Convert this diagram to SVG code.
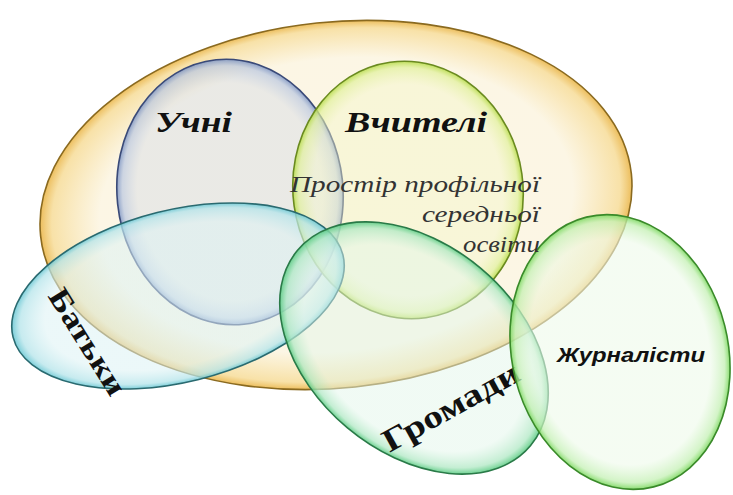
<svg xmlns="http://www.w3.org/2000/svg" width="733" height="495" viewBox="0 0 733 495">
<defs>
<radialGradient id="gOr" cx="0.5" cy="0.5" r="0.5"><stop offset="0.8" stop-color="#fbf3dc" stop-opacity="0.75"/><stop offset="0.96" stop-color="#f6da92" stop-opacity="0.8"/><stop offset="1" stop-color="#eab64a" stop-opacity="0.9"/></radialGradient>
<radialGradient id="gBl" cx="0.5" cy="0.5" r="0.5"><stop offset="0.82" stop-color="#d8dde6" stop-opacity="0.5"/><stop offset="0.95" stop-color="#b8c6e0" stop-opacity="0.7"/><stop offset="1" stop-color="#7f96c4" stop-opacity="0.9"/></radialGradient>
<radialGradient id="gYg" cx="0.5" cy="0.5" r="0.5"><stop offset="0.82" stop-color="#f3f6c8" stop-opacity="0.45"/><stop offset="0.95" stop-color="#e0f09a" stop-opacity="0.7"/><stop offset="1" stop-color="#b8dc4c" stop-opacity="0.9"/></radialGradient>
<radialGradient id="gCy" cx="0.5" cy="0.5" r="0.5"><stop offset="0.8" stop-color="#dcf2f4" stop-opacity="0.55"/><stop offset="0.95" stop-color="#b4e4ea" stop-opacity="0.75"/><stop offset="1" stop-color="#6cc8d4" stop-opacity="0.9"/></radialGradient>
<radialGradient id="gGr" cx="0.5" cy="0.5" r="0.5"><stop offset="0.82" stop-color="#e2f6ea" stop-opacity="0.5"/><stop offset="0.95" stop-color="#b0e8c4" stop-opacity="0.75"/><stop offset="1" stop-color="#5ccc84" stop-opacity="0.9"/></radialGradient>
<radialGradient id="gLg" cx="0.5" cy="0.5" r="0.5"><stop offset="0.82" stop-color="#eefaea" stop-opacity="0.6"/><stop offset="0.95" stop-color="#c4f0b4" stop-opacity="0.75"/><stop offset="1" stop-color="#7cd860" stop-opacity="0.9"/></radialGradient>
</defs>
<style>
.e{stroke-width:1.6}
.or{fill:url(#gOr);stroke:#8a6a20}
.bl{fill:url(#gBl);stroke:#3a4a78}
.yg{fill:url(#gYg);stroke:#6a8a20}
.cy{fill:url(#gCy);stroke:#2a6a70}
.gr{fill:url(#gGr);stroke:#2a7a48}
.lg{fill:url(#gLg);stroke:#3a8a2a}
.lb{font-family:"Liberation Serif",serif;font-weight:bold;font-style:italic;fill:#111;font-size:29px}
.sub{font-family:"Liberation Serif",serif;font-style:italic;fill:#333;font-size:24px}
.up{font-family:"Liberation Serif",serif;font-weight:bold;fill:#111}
</style>
<rect width="733" height="495" fill="#fff"/>
<g id="osvita">
<ellipse class="e or" cx="336" cy="205" rx="297" ry="183" transform="rotate(-6 336 205)"/>
</g>
<g id="uchni">
<ellipse class="e bl" cx="230" cy="192" rx="113" ry="133" transform="rotate(-6 230 192)"/>
<text class="lb" x="155" y="132" textLength="77" lengthAdjust="spacingAndGlyphs">Учні</text>
</g>
<g id="vchyteli">
<ellipse class="e yg" cx="408" cy="190" rx="115" ry="129" transform="rotate(-8 408 190)"/>
<text class="lb" x="345" y="132" textLength="142" lengthAdjust="spacingAndGlyphs">Вчителі</text>
</g>
<g id="batky">
<ellipse class="e cy" cx="178" cy="296" rx="170" ry="86" transform="rotate(-14 178 296)"/>
<text class="up" x="0" y="0" font-size="30" text-anchor="middle" textLength="120" lengthAdjust="spacingAndGlyphs" transform="translate(79 347) rotate(58)">Батьки</text>
</g>
<g id="hromady">
<ellipse class="e gr" cx="414" cy="348" rx="152" ry="104" transform="rotate(40 414 348)"/>
<text class="up" x="0" y="0" font-size="32" text-anchor="middle" textLength="152" lengthAdjust="spacingAndGlyphs" transform="translate(456 416) rotate(-29)">Громади</text>
</g>
<g id="zhurnalisty">
<ellipse class="e lg" cx="620" cy="352" rx="108" ry="139" transform="rotate(-14 620 352)"/>
<text x="557" y="362" font-family="'Liberation Sans',sans-serif" font-weight="bold" font-style="italic" font-size="20" fill="#111" textLength="148" lengthAdjust="spacingAndGlyphs">Журналісти</text>
</g>
<g id="prostir">
<text class="sub" x="290" y="192" textLength="250" lengthAdjust="spacingAndGlyphs">Простір профільної</text>
<text class="sub" x="422" y="222" textLength="118" lengthAdjust="spacingAndGlyphs">середньої</text>
<text class="sub" x="463" y="252" textLength="77" lengthAdjust="spacingAndGlyphs">освіти</text>
</g>
<g id="connectors"/>
</svg>
